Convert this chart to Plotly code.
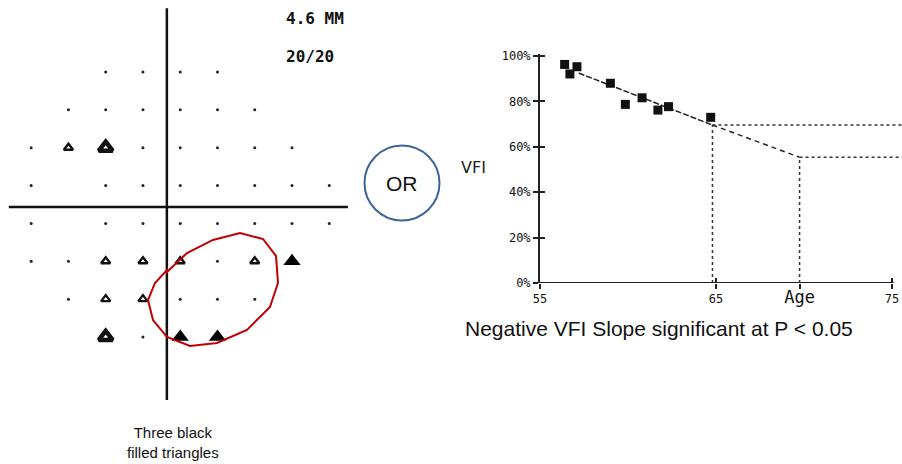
import plotly.graph_objects as go

W, H = 902, 464

# ---------------- Visual field (pattern deviation) data ----------------
vf_dot_x = [-9, -3, 3, 9,
            -15, -9, -3, 3, 9, 15,
            -21, -3, 3, 9, 15, 21,
            -21, -9, -3, 3, 9, 15, 21, 27,
            -21, -9, -3, 3, 9, 15, 21, 27,
            -21, -15, 9,
            -15, 3, 9, 15,
            -3]
vf_dot_y = [21, 21, 21, 21,
            15, 15, 15, 15, 15, 15,
            9, 9, 9, 9, 9, 9,
            3, 3, 3, 3, 3, 3, 3, 3,
            -3, -3, -3, -3, -3, -3, -3, -3,
            -9, -9, -9,
            -15, -15, -15, -15,
            -21]
vf_open_small_x = [-15, -9, -3, 3, 15, -9, -3]
vf_open_small_y = [9, -9, -9, -9, -9, -15, -15]
vf_open_large_x = [-9, -9]
vf_open_large_y = [9, -21]
vf_filled_x = [21, 3, 9]
vf_filled_y = [-9, -21, -21]

# ---------------- VFI trend data ----------------
vfi_age = [56.4, 56.7, 57.1, 59.0, 59.85, 60.8, 61.7, 62.3, 64.7]
vfi_pct = [96.3, 92.1, 95.3, 88.0, 78.7, 81.6, 76.2, 77.7, 73.0]
trend_age = [57.2, 64.8]
trend_pct = [92.5, 69.6]
proj_age = [64.8, 69.75]
proj_pct = [69.6, 55.4]
x_tickvals = [55, 65, 69.75, 75]
x_ticktext = ["55", "65", "<span style='font-size:17px'>Age</span>", "75"]
x_cross_ticks = [55, 65, 75]
y_tickvals = [0, 20, 40, 60, 80, 100]
y_ticktext = ["0%", "20%", "40%", "60%", "80%", "100%"]
x_end = 75.57

def px(x):
    return x / W

def py(y):
    return 1 - y / H

fig = go.Figure()

# visual field traces
fig.add_trace(go.Scatter(x=vf_dot_x, y=vf_dot_y, mode="markers",
                         marker=dict(symbol="circle", size=3, color="#222"),
                         xaxis="x", yaxis="y", showlegend=False))
fig.add_trace(go.Scatter(x=vf_open_small_x, y=vf_open_small_y, mode="markers",
                         marker=dict(symbol="triangle-up-open", size=8, color="#111",
                                     line=dict(width=2.4, color="#111")),
                         xaxis="x", yaxis="y", showlegend=False))
fig.add_trace(go.Scatter(x=vf_open_large_x, y=vf_open_large_y, mode="markers",
                         marker=dict(symbol="triangle-up-open", size=12, color="#111",
                                     line=dict(width=4.5, color="#111")),
                         xaxis="x", yaxis="y", showlegend=False))
fig.add_trace(go.Scatter(x=vf_filled_x, y=vf_filled_y, mode="markers",
                         marker=dict(symbol="triangle-up", size=15, color="#000"),
                         xaxis="x", yaxis="y", showlegend=False))

# VFI traces
fig.add_trace(go.Scatter(x=trend_age, y=trend_pct, mode="lines",
                         line=dict(color="#222", width=1.5, dash="6px,2px"),
                         xaxis="x2", yaxis="y2", showlegend=False))
fig.add_trace(go.Scatter(x=proj_age, y=proj_pct, mode="lines",
                         line=dict(color="#222", width=1.5, dash="5px,4px"),
                         xaxis="x2", yaxis="y2", showlegend=False))
fig.add_trace(go.Scatter(x=vfi_age, y=vfi_pct, mode="markers",
                         marker=dict(symbol="square", size=9, color="#111"),
                         xaxis="x2", yaxis="y2", showlegend=False))

# dotted reference lines (in data coords of the VFI chart)
shapes = []
for a, v in zip([trend_age[-1], proj_age[-1]], [trend_pct[-1], proj_pct[-1]]):
    shapes.append(dict(type="line", xref="x2", yref="y2", x0=a, x1=a, y0=0, y1=v,
                       line=dict(color="#333", width=1.5, dash="dot")))
    shapes.append(dict(type="line", xref="x2", yref="y2", x0=a, x1=x_end, y0=v, y1=v,
                       line=dict(color="#333", width=1.5, dash="dot")))
# x axis line
shapes.append(dict(type="line", xref="x2", yref="y2", x0=55, x1=75.1, y0=0, y1=0,
                   line=dict(color="#222", width=2)))

# visual field cross lines
shapes.append(dict(type="line", xref="x", yref="y", x0=0.85, x1=0.85, y0=31.1, y1=-31.0,
                   line=dict(color="#111", width=2.5)))
shapes.append(dict(type="line", xref="x", yref="y", x0=-24.6, x1=30.0, y0=-0.4, y1=-0.4,
                   line=dict(color="#111", width=2.5)))

# red freehand ellipse
red_pts = [(167, 272), (187, 253), (213, 240), (240, 233), (263, 239), (276, 256),
           (278, 283), (270, 307), (247, 330), (217, 343), (190, 346), (167, 337),
           (153, 320), (148, 300), (155, 283), (167, 270)]
path = "M " + " L ".join(f"{px(x):.4f},{py(y):.4f}" for x, y in red_pts) + " Z"
shapes.append(dict(type="path", xref="paper", yref="paper", path=path,
                   line=dict(color="#c00000", width=2)))

# blue OR circle
cx, cy, r = 402, 183, 37.5
shapes.append(dict(type="circle", xref="paper", yref="paper",
                   x0=px(cx - r), x1=px(cx + r), y0=py(cy + r), y1=py(cy - r),
                   line=dict(color="#3e6497", width=2)))

annotations = [
    dict(text="<b>4.6 MM</b>", x=px(284), y=py(19), xanchor="left", yanchor="middle",
         font=dict(family="DejaVu Sans Mono", size=16, color="#111")),
    dict(text="<b>20/20</b>", x=px(284), y=py(57), xanchor="left", yanchor="middle",
         font=dict(family="DejaVu Sans Mono", size=16, color="#111")),
    dict(text="OR", x=px(cx), y=py(cy), xanchor="center", yanchor="middle",
         font=dict(family="Liberation Sans", size=21, color="#111")),
    dict(text="VFI", x=px(473), y=py(168), xanchor="center", yanchor="middle",
         font=dict(family="DejaVu Sans", size=16, color="#222")),
    dict(text="Negative VFI Slope significant at P &lt; 0.05", x=px(463), y=py(328),
         xanchor="left", yanchor="middle",
         font=dict(family="Liberation Sans", size=21, color="#111")),
    dict(text="Three black<br>filled triangles", x=px(173), y=py(442),
         xanchor="center", yanchor="middle",
         font=dict(family="Liberation Sans", size=15, color="#111")),
]
for a in annotations:
    a.update(xref="paper", yref="paper", showarrow=False)

tick_font = dict(family="DejaVu Sans Mono", size=12, color="#111")
fig.update_layout(
    width=W, height=H, margin=dict(l=0, r=0, t=0, b=0, pad=0, autoexpand=False),
    paper_bgcolor="white", plot_bgcolor="rgba(0,0,0,0)",
    shapes=shapes, annotations=annotations, showlegend=False,
    xaxis=dict(domain=[0, 350 / W], range=[-26.02, 30.34], visible=False,
               fixedrange=True, automargin=False),
    yaxis=dict(domain=[0, 1], range=[-41.13, 32.41], visible=False,
               fixedrange=True, automargin=False),
    xaxis2=dict(domain=[540 / W, 1], range=[55, x_end], anchor="y2", automargin=False,
                showline=False, showgrid=False, zeroline=False,
                tickmode="array", tickvals=x_tickvals, ticktext=x_ticktext,
                ticks="outside", ticklen=5, tickwidth=1.5, tickcolor="#222",
                tickfont=tick_font),
    yaxis2=dict(domain=[py(283), py(54)], range=[0, 100.9], anchor="x2", automargin=False,
                showline=True, linecolor="#222", linewidth=2,
                showgrid=False, zeroline=False,
                tickmode="array", tickvals=y_tickvals, ticktext=y_ticktext,
                ticks="outside", ticklen=5, tickwidth=1.5, tickcolor="#222",
                tickfont=tick_font),
    # inside ticks to make the "+" crossing tick marks
    xaxis3=dict(domain=[540 / W, 1], range=[55, x_end], anchor="y3", overlaying="x2",
                automargin=False, showline=False, showgrid=False, zeroline=False,
                tickmode="array", tickvals=x_cross_ticks, showticklabels=False,
                ticks="inside", ticklen=5, tickwidth=1.5, tickcolor="#222"),
    yaxis3=dict(domain=[py(283), py(54)], range=[0, 100.9], anchor="x3", overlaying="y2",
                automargin=False, showline=False, showgrid=False, zeroline=False,
                tickmode="array", tickvals=y_tickvals, showticklabels=False,
                ticks="inside", ticklen=5, tickwidth=1.5, tickcolor="#222"),
)
# an invisible trace so the overlay axes are drawn
fig.add_trace(go.Scatter(x=[55], y=[0], mode="markers", marker=dict(opacity=0),
                         xaxis="x3", yaxis="y3", showlegend=False, hoverinfo="skip"))

fig.write_html("out.html", config={"displayModeBar": False},
               post_script="document.body.style.margin='0';")
